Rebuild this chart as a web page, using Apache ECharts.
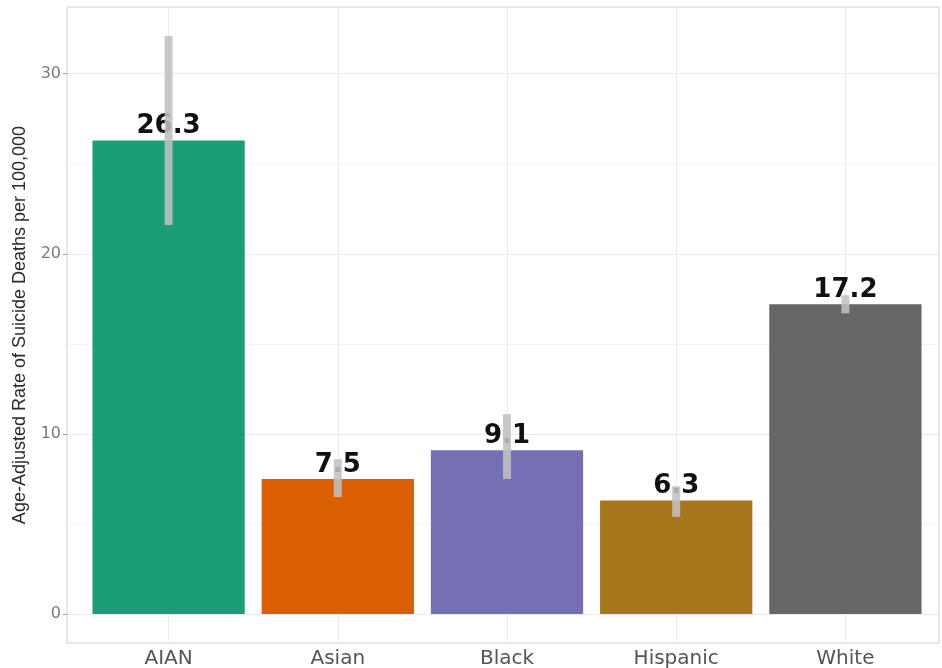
<!DOCTYPE html>
<html>
<head>
<meta charset="utf-8">
<script src="https://cdn.jsdelivr.net/npm/echarts@6/dist/echarts.min.js"></script>
<style>
html,body{margin:0;padding:0;background:#fff;}
#chart{width:942px;height:668px;}
</style>
</head>
<body>
<div id="chart"></div>
<script>
const categories = ['AIAN', 'Asian', 'Black', 'Hispanic', 'White'];
const rates = [26.3, 7.5, 9.1, 6.3, 17.2];
const ciLow = [21.6, 6.5, 7.5, 5.4, 16.7];
const ciHigh = [32.1, 8.6, 11.1, 7.1, 17.7];
const barColors = ['#1B9E77', '#D95F02', '#7570B3', '#A6761D', '#666666'];
const yTicks = [0, 10, 20, 30];
const yMinorTicks = [5, 15, 25];
const yTitle = 'Age-Adjusted Rate of Suicide Deaths per 100,000';

// ggplot-style 5% expansion of the data range (0 .. max upper CI)
const dataMax = Math.max(...ciHigh);
const pad = dataMax * 0.05;
const yMin = -pad;
const yMax = dataMax + pad;

const chart = echarts.init(document.getElementById('chart'), null, {renderer: 'canvas'});

const option = {
  animation: false,
  backgroundColor: '#ffffff',
  grid: [
    {left: 67, top: 7, width: 872, height: 636, show: true, borderColor: '#cfcfcf', borderWidth: 1, backgroundColor: 'transparent', containLabel: false, outerBoundsMode: 'none'},
    {left: 84, top: 7, width: 846, height: 636, containLabel: false, outerBoundsMode: 'none'}
  ],
  xAxis: [
    {gridIndex: 0, type: 'value', min: 0, max: 1, show: false},
    {
      gridIndex: 1, type: 'category', data: categories,
      axisLine: {show: false},
      axisTick: {show: true, alignWithLabel: true, length: 4, lineStyle: {color: '#9a9a9a'}},
      axisLabel: {color: '#555555', fontSize: 20, fontFamily: 'DejaVu Sans', margin: 6},
      splitLine: {show: false}
    }
  ],
  yAxis: [
    {
      gridIndex: 0, type: 'value', min: yMin, max: yMax,
      name: yTitle, nameLocation: 'middle', nameRotate: 90, nameGap: 38,
      nameTextStyle: {fontSize: 18, fontFamily: 'Liberation Sans', color: '#2a2a2a'},
      axisLine: {show: false},
      axisTick: {show: true, length: 4, customValues: yTicks, lineStyle: {color: '#9a9a9a'}},
      axisLabel: {customValues: yTicks, color: '#7a7a7a', fontSize: 16, fontFamily: 'DejaVu Sans', margin: 6},
      splitLine: {show: true, lineStyle: {color: '#ebebeb', width: 1}}
    },
    {gridIndex: 1, type: 'value', min: yMin, max: yMax, show: false, splitLine: {show: false}}
  ],
  series: [
    {
      type: 'line', xAxisIndex: 0, yAxisIndex: 0, data: [], z: 1, silent: true,
      markLine: {
        z: 1, silent: true, symbol: 'none', animation: false,
        label: {show: false},
        lineStyle: {color: '#f3f3f3', width: 1, type: 'solid'},
        data: yMinorTicks.map(v => ({yAxis: v}))
      }
    },
    {
      type: 'line', xAxisIndex: 1, yAxisIndex: 1, data: [], z: 1, silent: true,
      markLine: {
        z: 1, silent: true, symbol: 'none', animation: false,
        label: {show: false},
        lineStyle: {color: '#ebebeb', width: 1, type: 'solid'},
        data: categories.map(c => ({xAxis: c}))
      }
    },
    {
      type: 'bar', xAxisIndex: 1, yAxisIndex: 1, z: 3,
      barCategoryGap: '10%',
      data: rates.map((v, i) => ({value: v, itemStyle: {color: barColors[i]}})),
      label: {
        show: true, position: 'top', distance: 1,
        formatter: p => Number(p.value).toFixed(1),
        fontFamily: 'DejaVu Sans', fontWeight: 'bold', fontSize: 26, color: '#111111'
      }
    },
    {
      type: 'custom', xAxisIndex: 1, yAxisIndex: 1, z: 5,
      data: categories.map((c, i) => [i, ciLow[i], ciHigh[i]]),
      encode: {x: 0, y: [1, 2]},
      renderItem: function (params, api) {
        const lo = api.coord([api.value(0), api.value(1)]);
        const hi = api.coord([api.value(0), api.value(2)]);
        const w = 8;
        return {
          type: 'rect',
          shape: {x: lo[0] - w / 2, y: hi[1], width: w, height: lo[1] - hi[1]},
          style: {fill: 'rgba(192,192,192,0.88)'}
        };
      }
    }
  ]
};
chart.setOption(option);
</script>
</body>
</html>
